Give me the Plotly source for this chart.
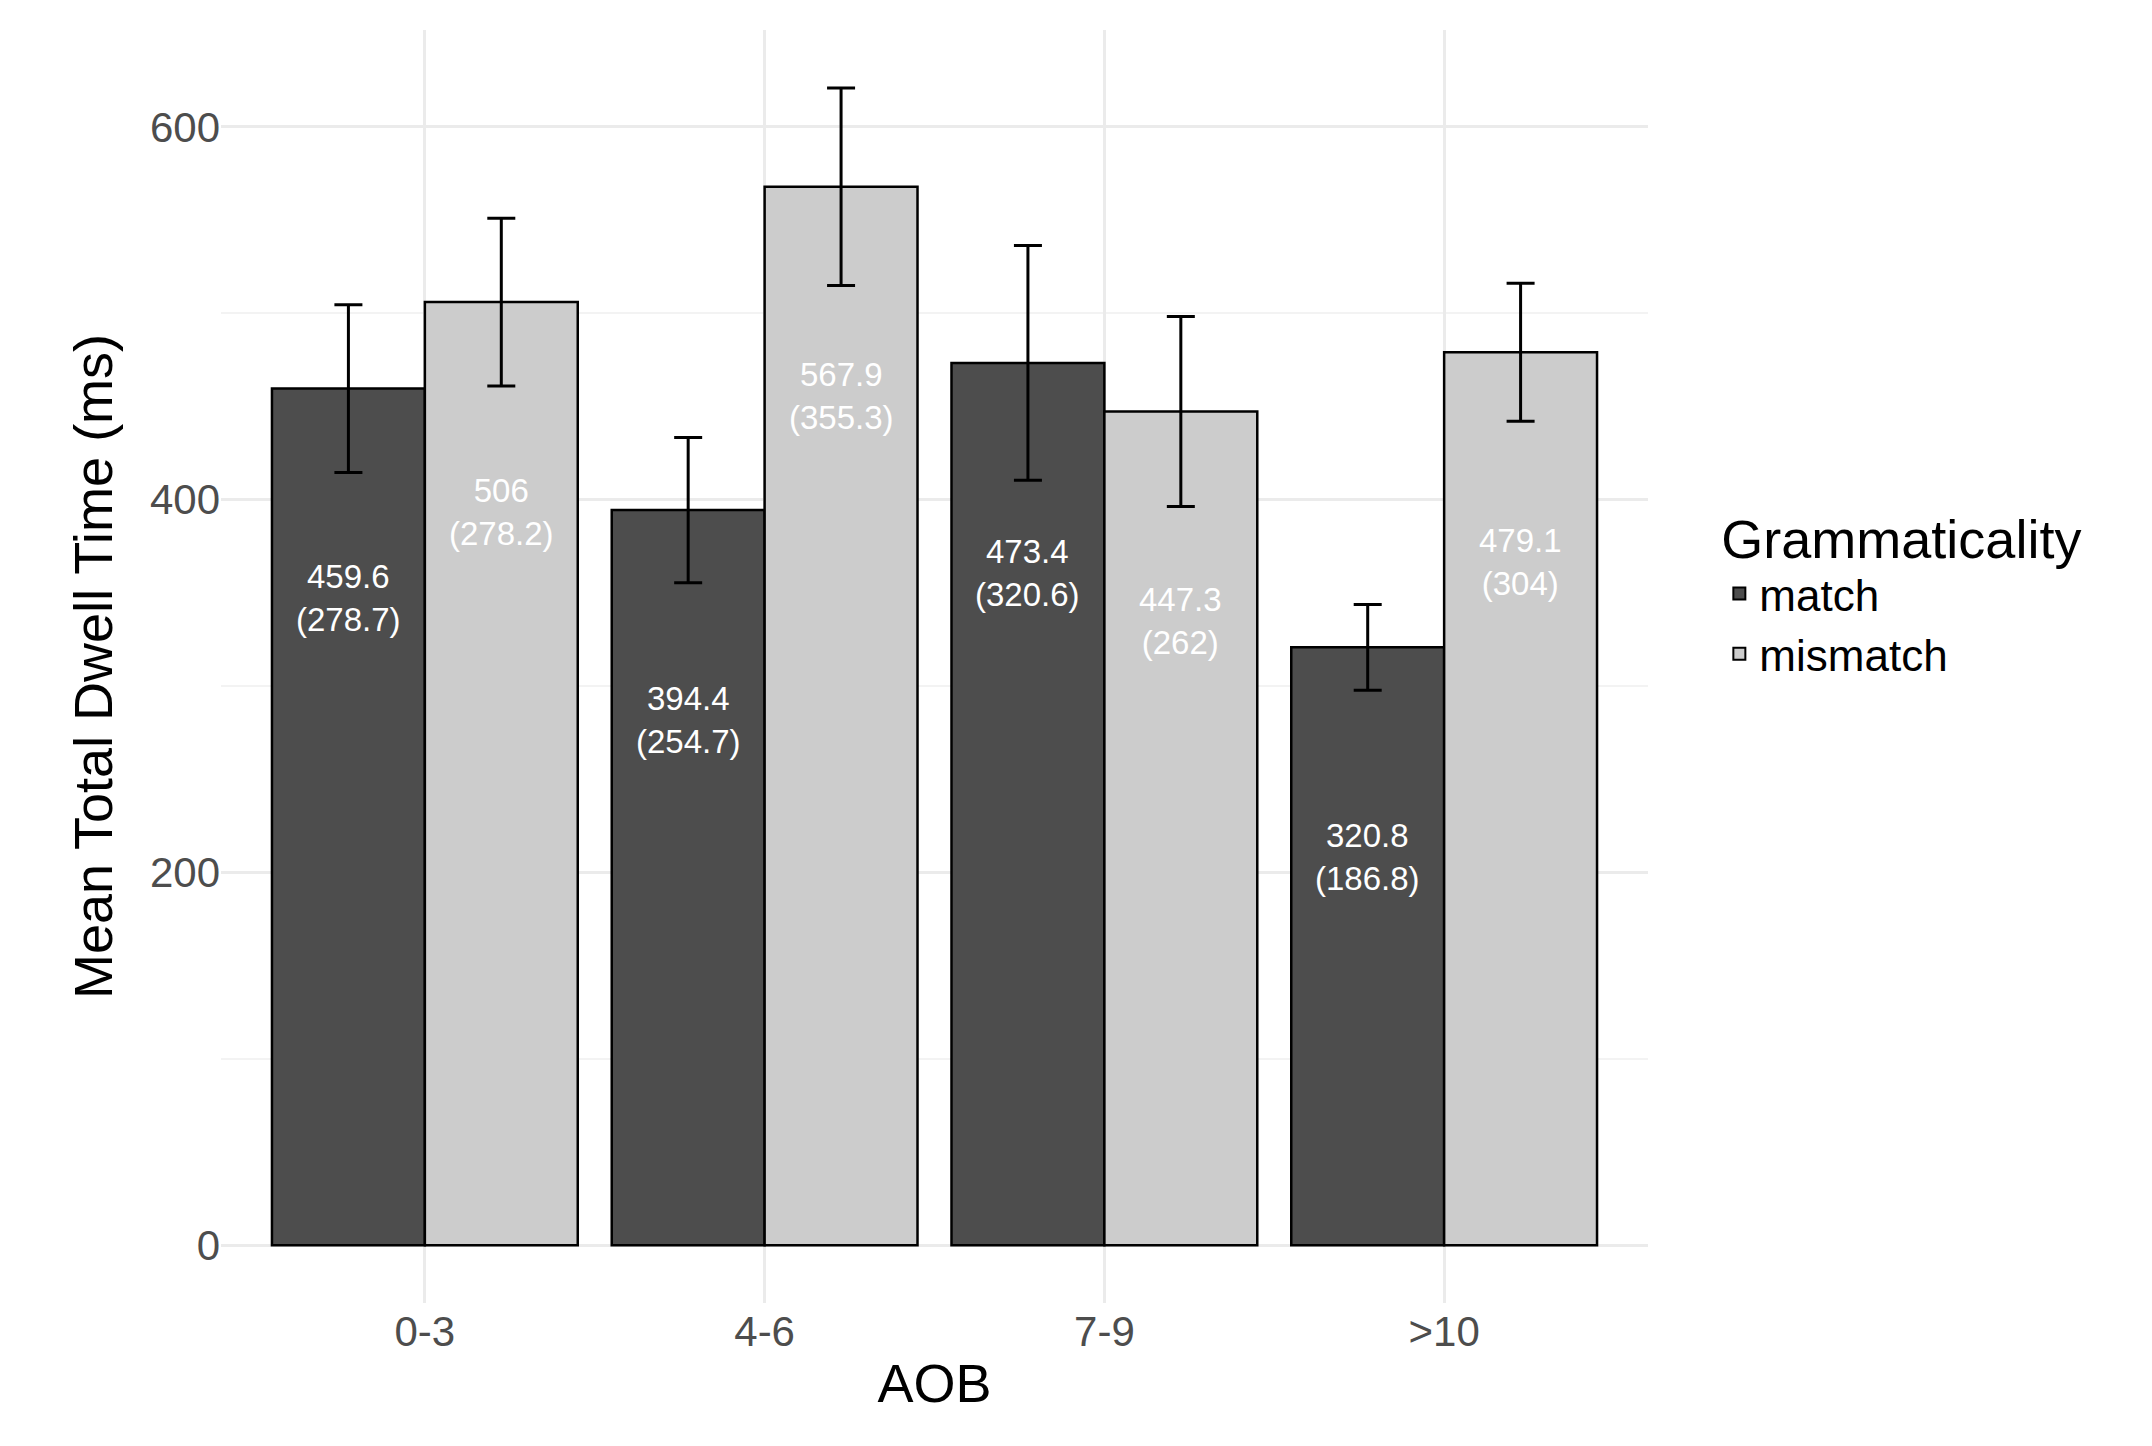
import plotly.graph_objects as go

aob = ["0-3", "4-6", "7-9", ">10"]
match_mean = [459.6, 394.4, 473.4, 320.8]
match_sd = [278.7, 254.7, 320.6, 186.8]
match_se = [45, 39, 63, 23]
mismatch_mean = [506, 567.9, 447.3, 479.1]
mismatch_sd = [278.2, 355.3, 262, 304]
mismatch_se = [45, 53, 51, 37]

pos = [1, 2, 3, 4]
w = 0.45
font = "Liberation Sans, Arial, sans-serif"

fig = go.Figure()
for name, means, sds, ses, color, off in [
    ("match", match_mean, match_sd, match_se, "#4d4d4d", -w / 2),
    ("mismatch", mismatch_mean, mismatch_sd, mismatch_se, "#cccccc", w / 2),
]:
    xs = [p + off for p in pos]
    fig.add_trace(go.Bar(
        x=xs, y=means, width=w, name=name,
        marker=dict(color=color, line=dict(color="black", width=2.5)),
        error_y=dict(type="data", array=ses, color="black", thickness=3, width=14),
    ))
    for x, m, s in zip(xs, means, sds):
        fig.add_annotation(x=x, y=m - 90, yanchor="top", showarrow=False,
                           text=f"{m:g}<br>({s:g})",
                           font=dict(family=font, size=33, color="white"))

fig.update_layout(
    width=2152, height=1446,
    plot_bgcolor="white", paper_bgcolor="white",
    margin=dict(l=213, r=512, t=22, b=151),
    font=dict(family=font, color="#4d4d4d", size=30),
    bargap=0.1,
    legend=dict(x=1.05, y=0.64, yanchor="top", traceorder="normal",
                title=dict(text="Grammaticality", font=dict(size=54, color="black")),
                font=dict(size=44, color="black"), itemsizing="constant"),
    xaxis=dict(tickvals=pos, ticktext=aob, range=[0.4, 4.6], showgrid=True,
               gridcolor="#ebebeb", gridwidth=3, zeroline=False,
               title=dict(text="AOB", font=dict(size=54, color="black"), standoff=10),
               tickfont=dict(size=42), ticks="", ticklen=0),
    yaxis=dict(range=[-31, 652], tickvals=[0, 200, 400, 600], showgrid=True,
               gridcolor="#ebebeb", gridwidth=3, zeroline=False,
               minor=dict(tickvals=[100, 300, 500], showgrid=True, gridcolor="#f3f3f3", gridwidth=2),
               title=dict(text="Mean Total Dwell Time (ms)", font=dict(size=54, color="black"), standoff=20),
               tickfont=dict(size=42)),
)
fig.write_html("out.html")
